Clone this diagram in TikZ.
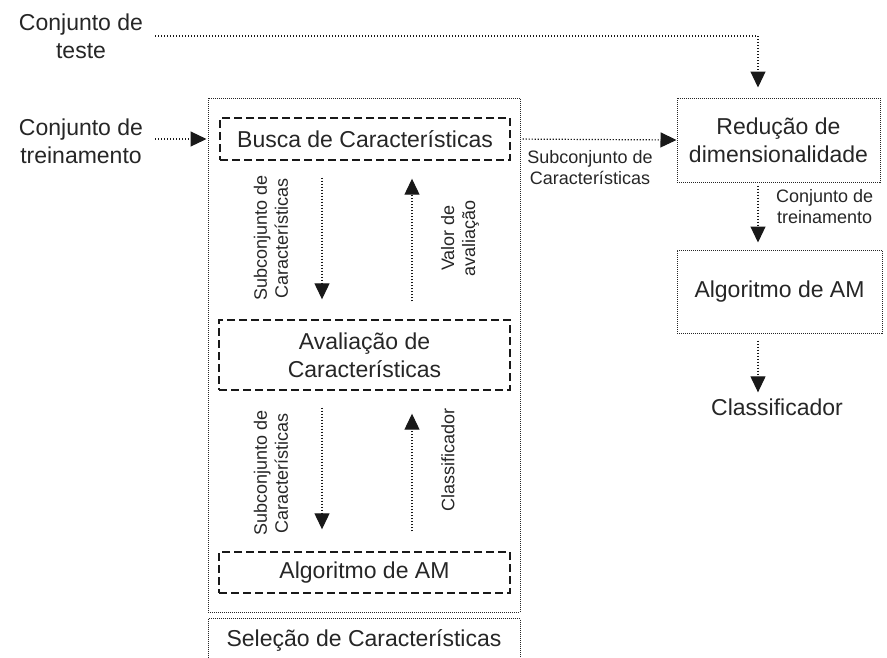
\documentclass[tikz,border=0pt]{standalone}
\usepackage{fontspec}
\setmainfont{Liberation Sans}
\usetikzlibrary{arrows.meta,calc}
\begin{document}
\begin{tikzpicture}[x=1pt,y=-1pt,
  txt/.style={text=black!85,align=center,inner sep=0pt,font=\fontsize{23}{28}\selectfont},
  small/.style={text=black!85,align=center,inner sep=0pt,font=\fontsize{18}{21}\selectfont},
  dotbox/.style={draw=black!85,line width=1pt,dash pattern=on 1pt off 1pt,inner sep=0pt},
  dashbox/.style={draw=black!90,line width=1.4pt,dash pattern=on 8pt off 4pt,inner sep=0pt},
  conn/.style={draw=black!90,line width=1.2pt,dash pattern=on 1.2pt off 1.8pt,
    -{Triangle[width=15pt,length=16pt,sep=0pt]}}]
\useasboundingbox (0,0) rectangle (887,657);
% left inputs
\node[txt] (teste) at (81,36) {Conjunto de\\teste};
\node[txt] (trein) at (81,141) {Conjunto de\\treinamento};
% selection container
\node[dotbox,minimum width=312pt,minimum height=514pt] (outer) at (364,355) {};
\node[dotbox,minimum width=312pt,minimum height=60pt,anchor=north] (selbox) at (364,618) {};
\node[txt] (sel) at (364,640) {Seleção de Características};
% inner boxes
\node[dashbox,minimum width=290pt,minimum height=42pt,txt] (busca) at (365,139) {Busca de Características};
\node[dashbox,minimum width=291pt,minimum height=70pt,txt] (aval) at (364.5,355) {Avaliação de\\Características};
\node[dashbox,minimum width=291pt,minimum height=41pt,txt] (algl) at (364.5,572.5) {Algoritmo de AM};
% right boxes
\node[dotbox,minimum width=203pt,minimum height=84pt,txt] (red) at (778.5,140) {Redução de\\dimensionalidade};
\node[dotbox,minimum width=205pt,minimum height=83pt,txt] (algr) at (779.5,291.5) {Algoritmo de AM};
\node[txt] (classif) at (777,407) {Classificador};
% columns
\coordinate (c1) at (322,0);
\coordinate (c2) at (412,0);
\coordinate (tc) at (758,0);
% connectors
\draw[conn,shorten >=10pt] (teste.east |- 0,36) ++(12,0) -- (tc |- 0,36) -- (tc |- red.north);
\draw[conn,shorten <=12pt,shorten >=1pt] (trein.east |- busca.west) -- (outer.west |- busca.west);
\draw[conn,shorten <=12pt] (busca.east) -- (red.west);
\node[small] (lsub) at (590,167.5) {Subconjunto de\\Características};
\draw[conn,shorten <=3pt,shorten >=7pt] (tc |- red.south) -- (tc |- algr.north);
\node[small,anchor=west] (ltrein) at (776,207) {Conjunto de\\treinamento};
\draw[conn,shorten <=7pt,shorten >=6pt] (tc |- algr.south) -- (tc |- classif.north);
% inner arrows
\draw[conn,shorten <=17pt,shorten >=20pt] (busca.south -| c1) -- (aval.north -| c1);
\draw[conn,shorten <=18pt,shorten >=18pt] (aval.north -| c2) -- (busca.south -| c2);
\node[small,rotate=90] (l1) at (271,238) {Subconjunto de\\Características};
\node[small,rotate=90] (l2) at (460,238) {Valor de\\avaliação};
\draw[conn,shorten <=17pt,shorten >=22pt] (aval.south -| c1) -- (algl.north -| c1);
\draw[conn,shorten <=20pt,shorten >=23pt] (algl.north -| c2) -- (aval.south -| c2);
\node[small,rotate=90] (l3) at (271,473) {Subconjunto de\\Características};
\node[small,rotate=90] (l4) at (448,460) {Classificador};
\end{tikzpicture}
\end{document}
